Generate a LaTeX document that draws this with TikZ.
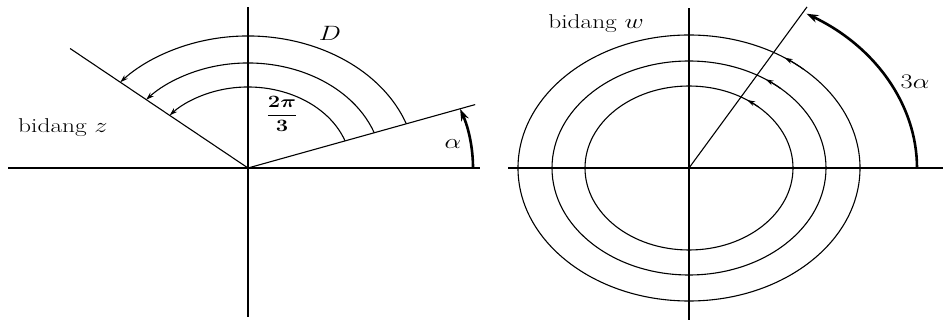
\documentclass[tikz,border=0pt]{standalone}
\usepackage{amsmath,bm}
\usetikzlibrary{arrows.meta,calc}
\newcommand{\wide}[1]{\scalebox{1.27}[1]{#1}}
\begin{document}
\begin{tikzpicture}[x=1pt,y=1pt,
  ln/.style={line width=1.1pt},
  thk/.style={line width=2.6pt},
  tip/.style={-{Stealth[length=8pt,width=5pt]}},
  bigtip/.style={-{Stealth[length=12pt,width=8pt]}},
  lbl/.style={font=\fontsize{20}{22}\selectfont, inner sep=0pt}]
\useasboundingbox (0,0) rectangle (943,321);
% ---------- left panel: z-plane ----------
\coordinate (O) at (248,153);
\coordinate (xl) at (8,153);
\coordinate (xr) at (480,153);
\coordinate (yt) at (248,314);
\coordinate (yb) at (248,4);
\coordinate (rr) at ($(O)+(19.5:241pt and 190pt)$);
\coordinate (rl) at ($(O)+(139.5:234pt and 184pt)$);
\draw[ln] (xl) -- (xr);
\draw[ln] (yb) -- (yt);
\draw[ln] (O) -- (rr);
\draw[ln] (O) -- (rl);
\foreach \a/\b in {168/132,134/105,103/81}{
  \draw[ln,tip] ($(O)+(19.5:\a pt and \b pt)$) arc[start angle=19.5,end angle=139.5,x radius=\a pt,y radius=\b pt];
}
\draw[thk,bigtip] ($(O)+(225pt,0)$) arc[start angle=0,end angle=19.5,x radius=225pt,y radius=177pt];
\node[lbl] (alpha) at (453,177) {\wide{$\alpha$}};
\node[lbl] (D) at (330,288) {\wide{$D$}};
\node[font=\fontsize{17}{19}\selectfont] (frac) at (282,207) {\wide{$\displaystyle\frac{\bm{2\pi}}{\bm{3}}$}};
\node[lbl,anchor=west] (bz) at (18,193) {\wide{bidang $z$}};
% ---------- right panel: w-plane ----------
\coordinate (P) at (689,153);
\coordinate (ul) at (508,153);
\coordinate (ur) at (943,153);
\coordinate (vt) at (689,313);
\coordinate (vb) at (689,1);
\coordinate (ray) at ($(P)+(60:236pt and 186pt)$);
\draw[ln] (ul) -- (ur);
\draw[ln] (vb) -- (vt);
\foreach \a/\b in {171/133,137/107,104/82}{
  \draw[ln] (P) ellipse[x radius=\a pt,y radius=\b pt];
  \draw[ln,tip] ($(P)+(48:\a pt and \b pt)$) arc[start angle=48,end angle=56,x radius=\a pt,y radius=\b pt];
}
\draw[ln] (P) -- (ray);
\draw[thk,bigtip] ($(P)+(228pt,0)$) arc[start angle=0,end angle=59,x radius=228pt,y radius=180pt];
\node[lbl] (3a) at (915,239) {\wide{$3\alpha$}};
\node[lbl] (bw) at (596,297) {\wide{bidang $w$}};
\end{tikzpicture}
\end{document}
